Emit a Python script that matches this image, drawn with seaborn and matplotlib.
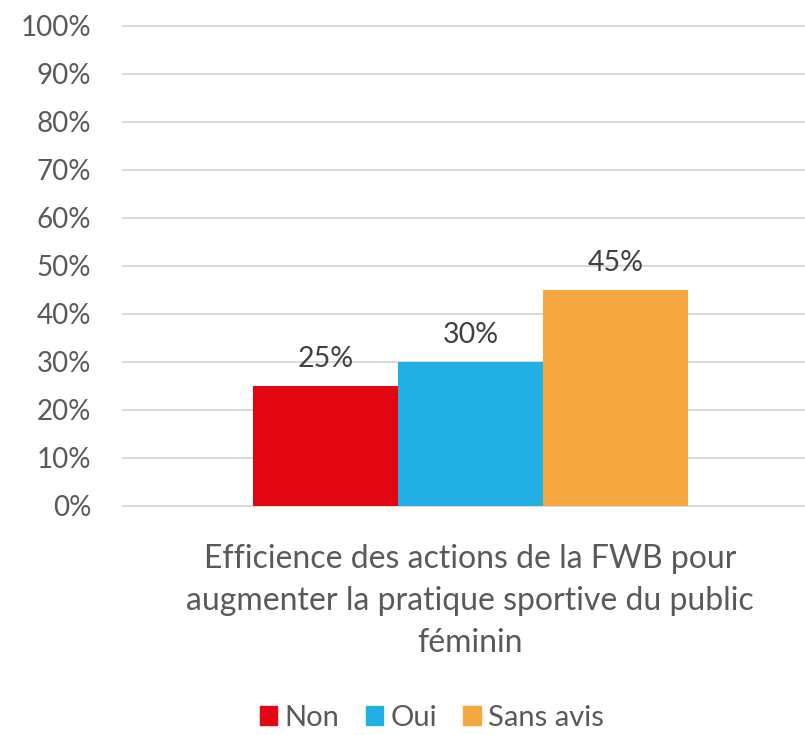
import pandas as pd
import numpy as np
import matplotlib
matplotlib.use("Agg")
import matplotlib.pyplot as plt
import seaborn as sns

categories = ["Efficience des actions de la FWB pour\naugmenter la pratique sportive du public\nféminin"]
reponses = ["Non", "Oui", "Sans avis"]
valeurs = [0.25, 0.30, 0.45]
couleurs = ["#e20613", "#22afe3", "#f5a83f"]
yticks = np.arange(0, 1.01, 0.1)

data = pd.DataFrame({"cat": categories * 3, "reponse": reponses, "val": valeurs})

sns.set_style("white")
plt.rcParams['font.family'] = ['Lato', 'DejaVu Sans']

fig = plt.figure(figsize=(8.05, 7.35), dpi=100)
ax = fig.add_axes([122 / 805, 1 - 506 / 735, 1 - 122 / 805, (506 - 26) / 735])
# grid lines drawn across to the right edge of the figure
ax.hlines(yticks, 0, 1.05, transform=ax.get_yaxis_transform(), color="#d9d9d9",
          linewidth=1.4, clip_on=False, zorder=0)
sns.barplot(data=data, x="cat", y="val", hue="reponse", palette=couleurs,
            width=0.8, saturation=1, linewidth=0, ax=ax, legend=False, zorder=2)

for cont in ax.containers:
    ax.bar_label(cont, labels=[f"{v*100:.0f}%" for v in cont.datavalues],
                 padding=10, fontsize=20.5, color="#404040")

ax.set_ylim(0, 1)
ax.set_xlim(-0.641, 0.615)
ax.set_yticks(yticks)
ax.set_yticklabels([f"{t*100:.0f}%" for t in yticks], fontsize=20, color="#595959")
ax.tick_params(axis="y", length=0, pad=22)
ax.set_xticks([])
ax.set_xlabel("")
ax.set_ylabel("")
for s in ax.spines.values():
    s.set_visible(False)

# category label below the plot, one line at a time (baselines)
for i, ligne in enumerate(categories[0].split("\n")):
    fig.text(470 / 805, 1 - (568 + 42 * i) / 735, ligne, ha="center", va="baseline",
             fontsize=23, color="#595959")

handles = [plt.Rectangle((0, 0), 1, 1, color=c) for c in couleurs]
fig.legend(handles, reponses, loc="center", bbox_to_anchor=(432 / 805, 1 - 718 / 735),
           ncol=3, frameon=False, fontsize=21, handlelength=0.6, handleheight=0.6,
           handletextpad=0.25, columnspacing=0.9, labelcolor="#595959",
           borderpad=0, borderaxespad=0)

fig.savefig("out.png", dpi=100)
